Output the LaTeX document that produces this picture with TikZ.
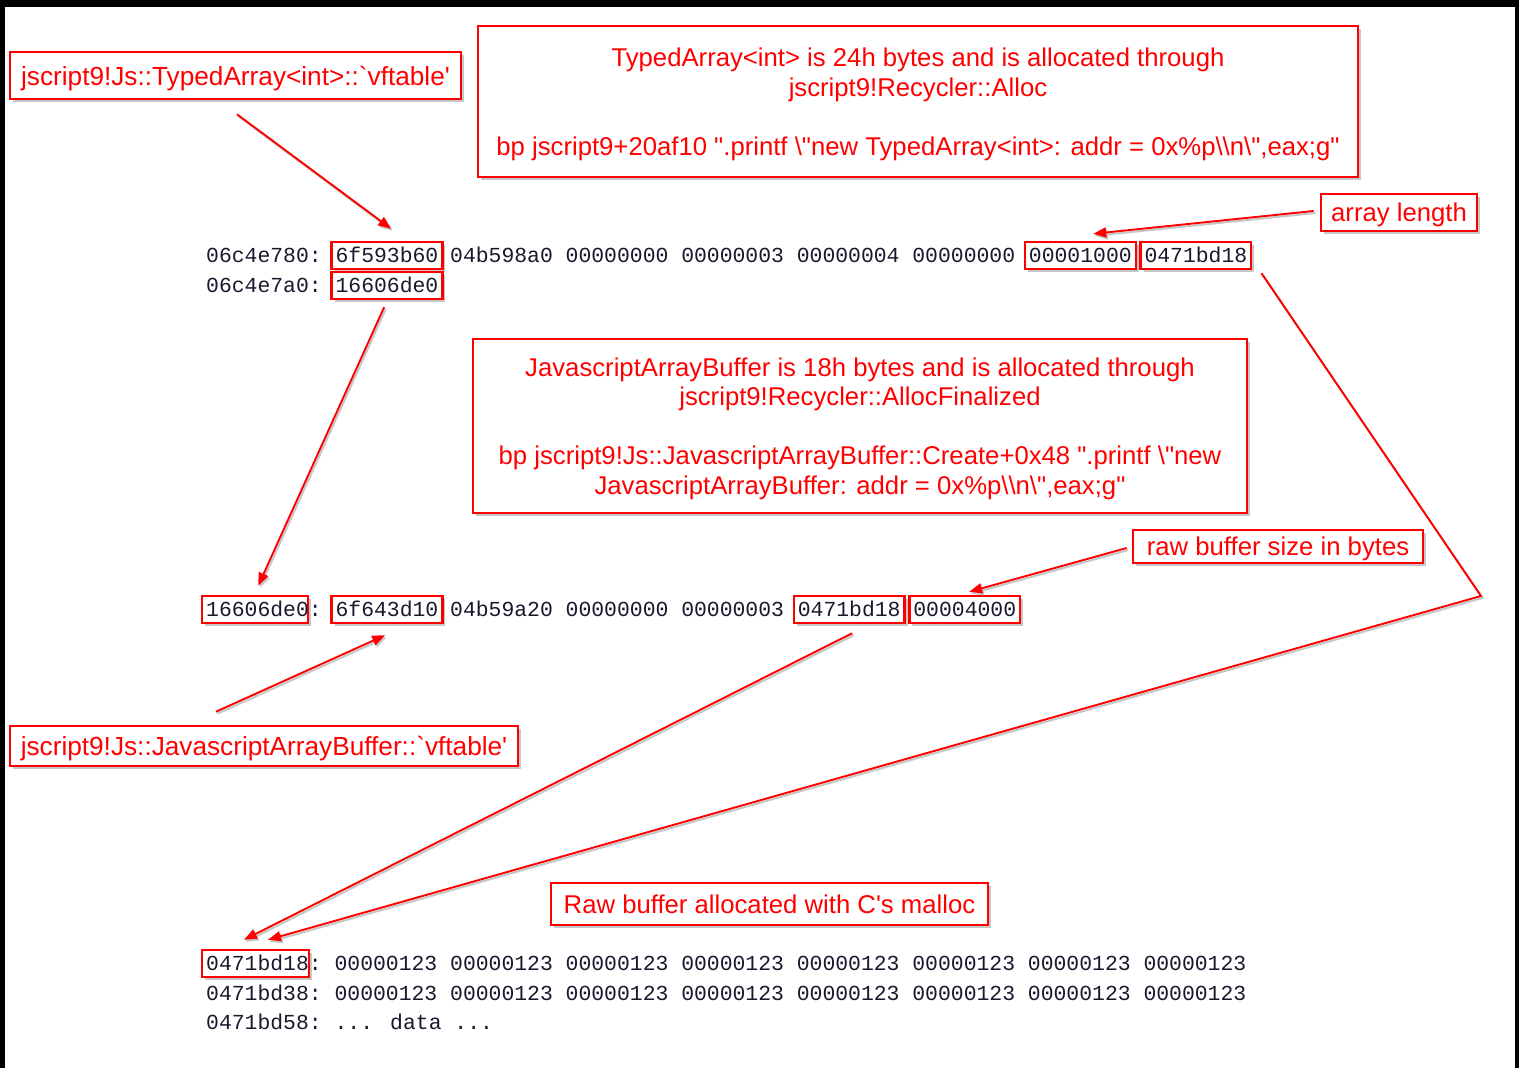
\documentclass[tikz,border=0pt]{standalone}
\usepackage{fontspec}
\usetikzlibrary{arrows.meta,shadows}
\newfontfamily\notefont{Liberation Sans}
\newfontfamily\dumpfont{Liberation Mono}
\definecolor{notered}{RGB}{255,0,0}
\definecolor{dumpink}{RGB}{25,25,45}
\newcommand\nbq{\textasciigrave}
\newcommand\nsq{\textquotesingle}
\newcommand\ndq{\textquotedbl}
\newcommand\nbs{\textbackslash}

\tikzset{
  softshadow/.style={drop shadow={shadow xshift=3pt, shadow yshift=-3pt, opacity=0.22, fill=black}},
  note/.style={draw=notered, line width=2.6pt, fill=white, text=notered,
    font=\notefont\fontsize{25.7}{29.5}\selectfont, align=center, inner sep=0pt,
    text depth=0pt, softshadow},
  vtabnote/.style={note, font=\notefont\fontsize{26.2}{29.5}\selectfont},
  word/.style={anchor=base west, inner xsep=4pt, inner ysep=6pt, text height=14pt,
    text depth=1pt, text=dumpink, font=\dumpfont\fontsize{21.4}{30}\selectfont},
  hit/.style={word, draw=notered, line width=2.4pt, fill=white, softshadow},
  link/.style={draw=notered, line width=1.9pt, -{Triangle[length=13pt,width=10pt]},
    preaction={draw=black!22, line width=2pt, transform canvas={shift={(1.5pt,-2pt)}}}}
}

\begin{document}
\begin{tikzpicture}[x=1pt,y=-1pt]
\useasboundingbox (0,0) rectangle (1519,1068);
% frame and page
\fill[black] (0,0) rectangle (1519,1068);
\fill[white] (5,7) rectangle (1515,1068);

% callout notes
\node[vtabnote, minimum width=451pt, minimum height=47pt] (lab1) at (235.5,75.5)
  {jscript9!Js::TypedArray<int>::\nbq vftable\nsq};
\node[note, minimum width=880pt, minimum height=151pt] (big1) at (918,101.5)
  {TypedArray<int> is 24h bytes and is allocated through\\
   jscript9!Recycler::Alloc\\[29.5pt]
   bp jscript9+20af10 \ndq.printf \nbs\ndq new TypedArray<int>: addr = 0x\%p\nbs\nbs n\nbs\ndq,eax;g\ndq};
\node[note, minimum width=156pt, minimum height=37pt] (arrlen) at (1399,212.5) {array length};
\node[note, minimum width=774pt, minimum height=174pt] (big2) at (860,426)
  {JavascriptArrayBuffer is 18h bytes and is allocated through\\
   jscript9!Recycler::AllocFinalized\\[29.5pt]
   bp jscript9!Js::JavascriptArrayBuffer::Create+0x48 \ndq.printf \nbs\ndq new\\
   JavascriptArrayBuffer: addr = 0x\%p\nbs\nbs n\nbs\ndq,eax;g\ndq};
\node[note, minimum width=290pt, minimum height=33pt] (rawsize) at (1278,546.5) {raw buffer size in bytes};
\node[vtabnote, minimum width=508pt, minimum height=40pt] (lab2) at (264,746)
  {jscript9!Js::JavascriptArrayBuffer::\nbq vftable\nsq};
\node[note, minimum width=437pt, minimum height=42pt] (malloc) at (769.5,904)
  {Raw buffer allocated with C\nsq s malloc};

% TypedArray<int> object dump
\node[word] (r1a) at (202,262) {06c4e780:};
\node[hit]  (v1)  at ({202+10*12.84},262) {6f593b60};
\node[word] (r1c2) at ({202+19*12.84},262) {04b598a0};
\node[word] (r1c3) at ({202+28*12.84},262) {00000000};
\node[word] (r1c4) at ({202+37*12.84},262) {00000003};
\node[word] (r1c5) at ({202+46*12.84},262) {00000004};
\node[word] (r1c6) at ({202+55*12.84},262) {00000000};
\node[hit]  (alen) at ({202+64*12.84},262) {00001000};
\node[hit]  (abuf) at ({202+73*12.84},262) {0471bd18};
\node[word] (r2a) at (202,292) {06c4e7a0:};
\node[hit]  (bufptr) at ({202+10*12.84},292) {16606de0};

% JavascriptArrayBuffer object dump
\node[hit]  (bufaddr) at (201,616) {\makebox[98pt][l]{16606de0}};
\node[word] (r3colon) at ({202+8*12.84},616) {:};
\node[hit]  (bvft) at ({202+10*12.84},616) {6f643d10};
\node[word] (r3c2) at ({202+19*12.84},616) {04b59a20};
\node[word] (r3c3) at ({202+28*12.84},616) {00000000};
\node[word] (r3c4) at ({202+37*12.84},616) {00000003};
\node[hit]  (rawptr) at ({202+46*12.84},616) {0471bd18};
\node[hit]  (rawlen) at ({202+55*12.84},616) {00004000};

% raw buffer contents
\node[hit]  (rawaddr) at (201,970) {\makebox[98.5pt][l]{0471bd18}};
\node[word] (r4colon) at ({202+8*12.84},970) {:};
\foreach \k in {1,...,8}
  \node[word] (r4c\k) at ({202+(10+9*(\k-1))*12.84},970) {00000123};
\node[word] (r5a) at (202,1000) {0471bd38:};
\foreach \k in {1,...,8}
  \node[word] (r5c\k) at ({202+(10+9*(\k-1))*12.84},1000) {00000123};
\node[word] (r6a) at (202,1029) {0471bd58:};
\node[word] (r6b) at ({202+10*12.84},1029) {... data ...};

% pointers
\draw[link] ([shift={(1.5,14)}]lab1.south) -- ([shift={(4.2,-12)}]v1.north);
\draw[link] ([shift={(-2.8,7)}]bufptr.south) -- ([shift={(3,-9)}]bufaddr.north);
\draw[link] ([shift={(-48,-13)}]lab2.north) -- ([shift={(-1.8,11)}]bvft.south);
\draw[link] ([shift={(-6,-1.5)}]arrlen.west) -- ([shift={(12.9,-7)}]alen.north);
\draw[link] ([shift={(-5,1.5)}]rawsize.west) -- ([shift={(4.4,-3)}]rawlen.north);
\draw[link] ([shift={(3,9)}]rawptr.south) -- ([shift={(-11.5,-9)}]rawaddr.north);
\draw[link] ([shift={(9,3)}]abuf.south east) -- (1481,596) -- ([shift={(12.5,-9)}]rawaddr.north);
\end{tikzpicture}
\end{document}
